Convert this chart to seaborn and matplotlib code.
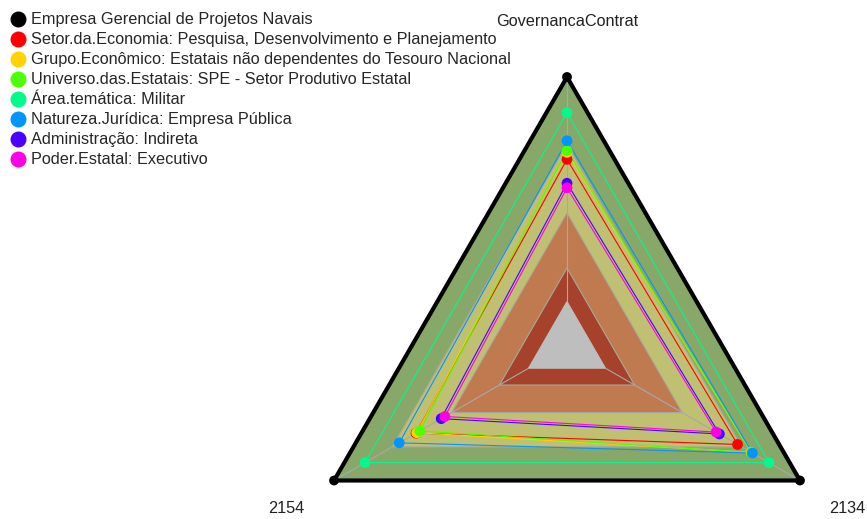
import numpy as np
import pandas as pd
import matplotlib
matplotlib.use("Agg")
import matplotlib.pyplot as plt
from matplotlib.lines import Line2D
import seaborn as sns

# ---- data ----
axes_labels = ["GovernancaContrat", "2134", "2154"]
series_names = [
    "Empresa Gerencial de Projetos Navais",
    "Setor.da.Economia: Pesquisa, Desenvolvimento e Planejamento",
    "Grupo.Econômico: Estatais não dependentes do Tesouro Nacional",
    "Universo.das.Estatais: SPE - Setor Produtivo Estatal",
    "Área.temática: Militar",
    "Natureza.Jurídica: Empresa Pública",
    "Administração: Indireta",
    "Poder.Estatal: Executivo",
]
series_colors = ["#000000", "#FF0000", "#FFD200", "#4DFF00", "#00FA8C",
                 "#0095FF", "#4A00FF", "#FF00E6"]
# values (fraction of scale) per axis: GovernancaContrat, 2134, 2154
v_empresa = [1.00, 1.00, 1.00]
v_setor = [0.694, 0.732, 0.648]
v_grupo = [0.720, 0.790, 0.645]
v_universo = [0.726, 0.792, 0.632]
v_militar = [0.867, 0.867, 0.867]
v_natureza = [0.763, 0.796, 0.720]
v_admin = [0.605, 0.654, 0.540]
v_poder = [0.588, 0.640, 0.524]
series_values = [v_empresa, v_setor, v_grupo, v_universo, v_militar,
                 v_natureza, v_admin, v_poder]

band_levels = [1.00, 0.75, 0.495, 0.29, 0.165]
band_colors = ["#88A86A", "#C0C072", "#C07A50", "#A6422C", "#BEBEBE"]

# ---- figure ----
sns.set_theme(style="white")
plt.rcParams["font.family"] = ["Liberation Sans", "DejaVu Sans"]

W, H = 867, 519
fig = plt.figure(figsize=(W / 100, H / 100), dpi=100)
cx, cy, R = 567, 346, 269
ax = fig.add_axes([(cx - R) / W, (H - cy - R) / H, 2 * R / W, 2 * R / H],
                  projection="polar")
ax.set_theta_offset(np.pi / 2)
ax.set_theta_direction(-1)
ax.set_ylim(0, 1)
ax.set_axis_off()

n = len(axes_labels)
theta = np.arange(n) * 2 * np.pi / n
theta_c = np.append(theta, theta[0])

# background bands (innermost gray drawn above the spokes)
last = len(band_levels) - 1
for i, (lvl, col) in enumerate(zip(band_levels, band_colors)):
    ax.fill(theta_c, [lvl] * (n + 1), color=col, lw=0.8,
            ec=col if i == last else "#A9A99A", zorder=2.5 if i == last else 1)
# axis spokes
for t in theta:
    ax.plot([t, t], [0, 1], color="#A8A8A8", lw=0.8, zorder=2)

# series
for i, (name, vals, col) in enumerate(zip(series_names, series_values, series_colors)):
    v = np.append(vals, vals[0])
    lw = 3.0 if i == 0 else 0.8
    ax.plot(theta_c, v, color=col, lw=lw, zorder=3 + i, clip_on=False)

rows = []
for name, vals in zip(series_names, series_values):
    for t, v in zip(theta, vals):
        rows.append({"series": name, "theta": t, "value": v})
df = pd.DataFrame(rows)
pal = dict(zip(series_names, series_colors))
for i, name in enumerate(series_names):
    sub = df[df["series"] == name]
    sns.scatterplot(data=sub, x="theta", y="value", color=pal[name], s=60 if i else 50,
                    edgecolor="none", ax=ax, legend=False, zorder=20 + i, clip_on=False)
ax.set_xlabel("")
ax.set_ylabel("")
ax.set_ylim(0, 1)
ax.set_axis_off()

for t, lab in zip(theta, axes_labels):
    ax.text(t, 1.205, lab, ha="center", va="center", fontsize=11.7, color="#222222")

handles = [Line2D([], [], marker="o", linestyle="none", markersize=10.5,
                  markerfacecolor=c, markeredgecolor=c) for c in series_colors]
fig.legend(handles, series_names, loc="upper left", bbox_to_anchor=(-0.004, 1.0),
           frameon=False, fontsize=11.7, handletextpad=0.2, labelspacing=0.31,
           borderaxespad=0.3, handlelength=1.15, borderpad=0.45)

fig.savefig("out.png", dpi=100)
